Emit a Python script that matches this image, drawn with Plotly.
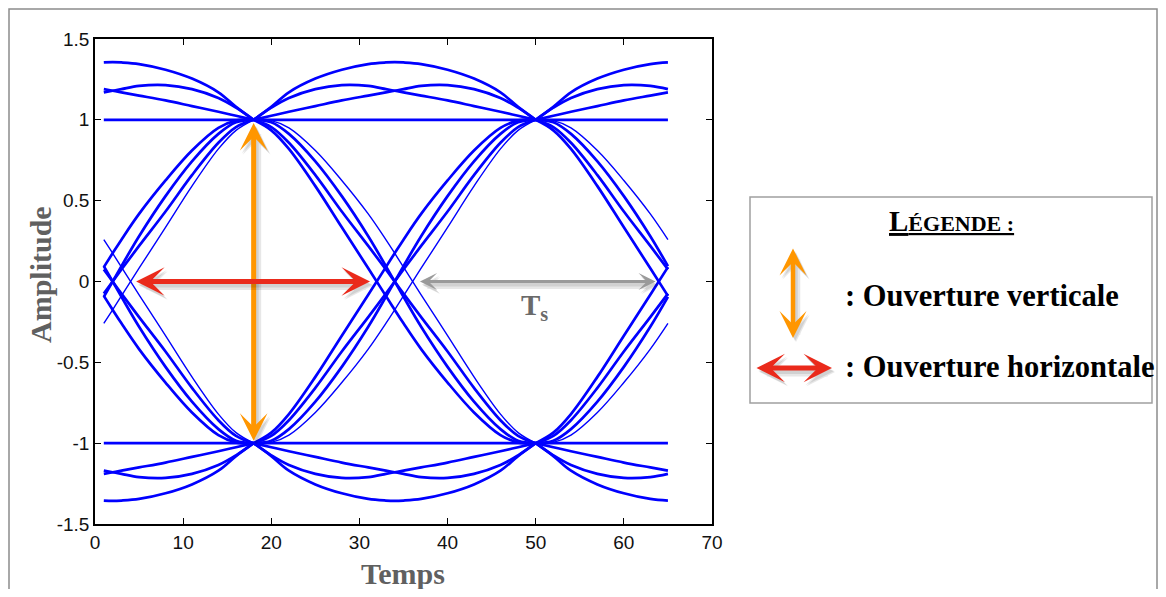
import plotly.graph_objects as go

# ---------------- data ----------------
PERIOD = 32          # samples per symbol (decision instants at 18 and 50)
TRACE_START = 1
TRACE_END = 65

# sample instants across one symbol period (from decision instant 18 to 50)
T_GRID = [18, 20, 22, 25, 28, 31, 33, 34, 35, 37, 40, 43, 46, 48, 50]

# upper rail (+1 -> +1)
UP_FLAT = [1.0, 1.0, 1.0, 1.0, 1.0, 1.0, 1.0, 1.0, 1.0, 1.0, 1.0, 1.0, 1.0, 1.0, 1.0]
UP_ARCH = [1.0, 1.08, 1.17, 1.255, 1.31, 1.345, 1.355, 1.357, 1.355, 1.345, 1.31, 1.255, 1.17, 1.08, 1.0]
UP_EARLY = [1.0, 1.075, 1.135, 1.19, 1.215, 1.21, 1.19, 1.18, 1.17, 1.15, 1.12, 1.085, 1.05, 1.025, 1.0]
UP_LATE = [1.0, 1.025, 1.05, 1.085, 1.12, 1.15, 1.17, 1.18, 1.19, 1.21, 1.215, 1.19, 1.135, 1.075, 1.0]

# lower rail (-1 -> -1)
LO_FLAT = [-1.0, -1.0, -1.0, -1.0, -1.0, -1.0, -1.0, -1.0, -1.0, -1.0, -1.0, -1.0, -1.0, -1.0, -1.0]
LO_ARCH = [-1.0, -1.08, -1.17, -1.255, -1.31, -1.345, -1.355, -1.357, -1.355, -1.345, -1.31, -1.255, -1.17, -1.08, -1.0]
LO_EARLY = [-1.0, -1.075, -1.135, -1.19, -1.215, -1.21, -1.19, -1.18, -1.17, -1.15, -1.12, -1.085, -1.05, -1.025, -1.0]
LO_LATE = [-1.0, -1.025, -1.05, -1.085, -1.12, -1.15, -1.17, -1.18, -1.19, -1.21, -1.215, -1.19, -1.135, -1.075, -1.0]

# falling transitions (+1 -> -1)
FALL_A = [1.0, 0.995, 0.95, 0.81, 0.625, 0.418, 0.259, 0.175, 0.089, -0.082, -0.335, -0.59, -0.82, -0.935, -1.0]
FALL_B = [1.0, 0.955, 0.858, 0.658, 0.433, 0.22, 0.075, 0.0, -0.075, -0.22, -0.433, -0.658, -0.858, -0.955, -1.0]
FALL_C = [1.0, 0.985, 0.913, 0.743, 0.528, 0.28, 0.095, 0.0, -0.095, -0.28, -0.528, -0.743, -0.913, -0.985, -1.0]
FALL_D = [1.0, 0.935, 0.82, 0.59, 0.335, 0.082, -0.089, -0.175, -0.259, -0.418, -0.625, -0.81, -0.95, -0.995, -1.0]

# rising transitions (-1 -> +1)
RISE_A = [-1.0, -0.995, -0.95, -0.81, -0.625, -0.418, -0.259, -0.175, -0.089, 0.082, 0.335, 0.59, 0.82, 0.935, 1.0]
RISE_B = [-1.0, -0.955, -0.858, -0.658, -0.433, -0.22, -0.075, 0.0, 0.075, 0.22, 0.433, 0.658, 0.858, 0.955, 1.0]
RISE_C = [-1.0, -0.985, -0.913, -0.743, -0.528, -0.28, -0.095, 0.0, 0.095, 0.28, 0.528, 0.743, 0.913, 0.985, 1.0]
RISE_D = [-1.0, -0.935, -0.82, -0.59, -0.335, -0.082, 0.089, 0.175, 0.259, 0.418, 0.625, 0.81, 0.95, 0.995, 1.0]

X_TICKS = [0, 10, 20, 30, 40, 50, 60, 70]
X_TICK_LABELS = ["0", "10", "20", "30", "40", "50", "60", "70"]
Y_TICKS = [-1.5, -1, -0.5, 0, 0.5, 1, 1.5]
Y_TICK_LABELS = ["-1.5", "-1", "-0.5", "0", "0.5", "1", "1.5"]

THICK = [UP_FLAT, UP_ARCH, UP_EARLY, UP_LATE, LO_FLAT, LO_ARCH, LO_EARLY, LO_LATE,
         FALL_B, FALL_C, FALL_D, RISE_B, RISE_C, RISE_D]
THIN = [FALL_A, RISE_A]

BLUE = "#0000FF"
ORANGE = "#FF9600"
RED = "#EA2A1B"
GREY_ARROW = "#9A9A9A"
SHADOW = "rgba(0,0,0,0.09)"
SERIF = "Liberation Serif, Times New Roman, serif"
SANS = "Liberation Sans Narrow, Arial Narrow, Liberation Sans, Arial"


def eye_trace(values, width):
    # one trace window runs from TRACE_START to TRACE_END: the tail of the previous
    # symbol period, the full period, and the head of the next one
    xs, ys = [], []
    for t, v in zip(T_GRID, values):
        if t - PERIOD >= TRACE_START:
            xs.append(t - PERIOD)
            ys.append(v)
    xs.append(None); ys.append(None)
    xs += T_GRID; ys += values
    xs.append(None); ys.append(None)
    for t, v in zip(T_GRID, values):
        if t + PERIOD <= TRACE_END:
            xs.append(t + PERIOD)
            ys.append(v)
    return go.Scatter(x=xs, y=ys, mode="lines",
                      line=dict(color=BLUE, width=width, shape="spline", smoothing=1.0),
                      hoverinfo="skip")


fig = go.Figure()
for vals in THICK:
    fig.add_trace(eye_trace(vals, 2.7))
for vals in THIN:
    fig.add_trace(eye_trace(vals, 1.4))

# the page body has an 8px margin around the figure
OFF = 8
W, H = 1150, 581
L, T = 87, 31
PW, PH = 617, 485
R, B = W - L - PW, H - T - PH
X_PER_PX = 70 / PW
Y_PER_PX = 3.0 / PH


def px(page_x):
    return (page_x - OFF - L) / PW


def py(page_y):
    return (T + PH - (page_y - OFF)) / PH


fig.update_layout(
    width=W, height=H,
    margin=dict(l=L, r=R, t=T, b=B),
    paper_bgcolor="white", plot_bgcolor="white",
    showlegend=False,
    xaxis=dict(range=[0, 70], tickvals=X_TICKS, ticktext=X_TICK_LABELS,
               ticks="inside", ticklen=6, tickwidth=1.2, tickcolor="black",
               showline=True, linecolor="black", linewidth=1.5, mirror="ticks",
               showgrid=False, zeroline=False,
               tickfont=dict(family=SANS, size=19, color="#111")),
    yaxis=dict(range=[-1.5, 1.5], tickvals=Y_TICKS, ticktext=Y_TICK_LABELS,
               ticks="inside", ticklen=6, tickwidth=1.2, tickcolor="black",
               showline=True, linecolor="black", linewidth=1.5, mirror="ticks",
               showgrid=False, zeroline=False,
               tickfont=dict(family=SANS, size=19, color="#111")),
)

shapes = [
    # outer frame of the figure
    dict(type="rect", xref="paper", yref="paper", x0=px(9), x1=px(1157), y0=py(620), y1=py(9),
         line=dict(color="#8C8C8C", width=1.5), fillcolor="rgba(0,0,0,0)", layer="below"),
    # legend box
    dict(type="rect", xref="paper", yref="paper", x0=px(750), x1=px(1152), y0=py(403), y1=py(197),
         line=dict(color="#A0A0A0", width=1.5), fillcolor="white", layer="below"),
]
fig.update_layout(shapes=shapes)

ann = []


def data_arrow(x0, y0, x1, y1, color, width, size):
    # soft drop shadow below/right, then the arrow itself
    for c, w, dx, dy in ((SHADOW, width + 4, 3, 4), (SHADOW, width + 1, 2, 3), (color, width, 0, 0)):
        ann.append(dict(x=x1 + dx * X_PER_PX, y=y1 - dy * Y_PER_PX,
                        ax=x0 + dx * X_PER_PX, ay=y0 - dy * Y_PER_PX,
                        xref="x", yref="y", axref="x", ayref="y",
                        text="", showarrow=True, arrowside="end+start", arrowhead=3, startarrowhead=3,
                        arrowwidth=w, arrowsize=size * width / w, startarrowsize=size * width / w,
                        arrowcolor=c, standoff=0))


def paper_arrow(page_x, page_y, off_x, off_y, color, width, size):
    for c, w, dx, dy in ((SHADOW, width + 4, 3, 4), (SHADOW, width + 1, 2, 3), (color, width, 0, 0)):
        ann.append(dict(x=px(page_x + dx), y=py(page_y + dy), ax=off_x, ay=off_y,
                        xref="paper", yref="paper", axref="pixel", ayref="pixel",
                        text="", showarrow=True, arrowside="end+start", arrowhead=3, startarrowhead=3,
                        arrowwidth=w, arrowsize=size * width / w, startarrowsize=size * width / w,
                        arrowcolor=c, standoff=0))


# axis titles
ann.append(dict(text="<b>Temps</b>", xref="paper", yref="paper", x=px(403), y=py(573),
                showarrow=False, font=dict(family=SERIF, size=30, color="#606060"),
                xanchor="center", yanchor="middle"))
ann.append(dict(text="<b>Amplitude</b>", xref="paper", yref="paper", x=px(40), y=py(275),
                showarrow=False, textangle=-90, font=dict(family=SERIF, size=30, color="#606060"),
                xanchor="center", yanchor="middle"))

# vertical eye opening (orange), horizontal eye opening (red), symbol period (grey)
data_arrow(18, 0.99, 18, -0.985, ORANGE, 5, 0.92)
data_arrow(4.5, 0, 31.2, 0, RED, 5, 0.95)
data_arrow(36.7, 0, 63.6, 0, GREY_ARROW, 3, 0.95)
ann.append(dict(text="<b>T<sub>s</sub></b>", x=49.9, y=-0.16, xref="x", yref="y",
                showarrow=False, font=dict(family=SERIF, size=29, color="#6A6A6A")))

# legend content
ann.append(dict(text="<b><u>L<span style='font-size:22px'>ÉGENDE :</span></u></b>",
                xref="paper", yref="paper", x=px(951), y=py(221), showarrow=False,
                font=dict(family=SERIF, size=29, color="black"), xanchor="center", yanchor="middle"))
paper_arrow(793, 338, 0, -91, ORANGE, 4.5, 1.0)
ann.append(dict(text="<b>: Ouverture verticale</b>", xref="paper", yref="paper", x=px(843), y=py(296),
                showarrow=False, font=dict(family=SERIF, size=30.5, color="black"),
                xanchor="left", yanchor="middle"))
paper_arrow(832, 368, -77, 0, RED, 5, 0.95)
ann.append(dict(text="<b>: Ouverture horizontale</b>", xref="paper", yref="paper", x=px(843), y=py(367),
                showarrow=False, font=dict(family=SERIF, size=30.5, color="black"),
                xanchor="left", yanchor="middle"))

fig.update_layout(annotations=ann)
fig.write_html("out.html")
